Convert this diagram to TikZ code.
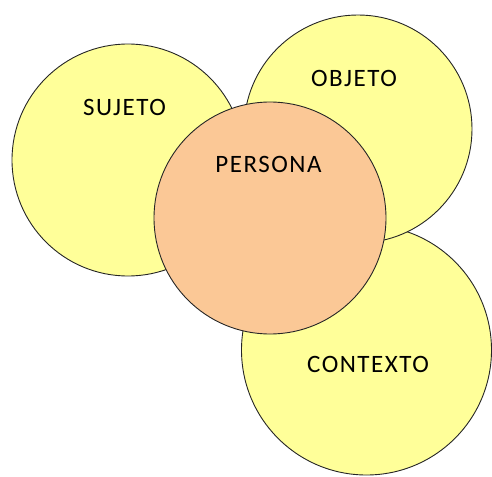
\documentclass[tikz,border=0pt]{standalone}
\usepackage{fontspec}
\setmainfont{Carlito}
\newfontfamily\lblfont[LetterSpace=6]{Carlito}
\definecolor{circyellow}{HTML}{FFFF99}
\definecolor{peach}{HTML}{FBC896}
\tikzset{
  circ/.style={circle, draw=black!85, line width=0.9pt, inner sep=0pt, minimum size=#1},
  lbl/.style={anchor=base, font=\lblfont\fontsize{25}{28}\selectfont, text=black, inner sep=0pt}
}
\begin{document}
\begin{tikzpicture}[x=1pt,y=-1pt]
\useasboundingbox (0,0) rectangle (492,476);
\node[circ=232pt, fill=circyellow] (sujeto) at (128,160) {};
\node[circ=250pt, fill=circyellow] (contexto) at (366.5,350) {};
\node[circ=228pt, fill=circyellow] (objeto) at (358,129) {};
\node[circ=232pt, fill=peach] (persona) at (270,218) {};
\node[lbl] (tsujeto) at (124.5,115) {SUJETO};
\node[lbl] (tobjeto) at (354,87) {OBJETO};
\node[lbl] (tpersona) at (268.5,172) {PERSONA};
\node[lbl] (tcontexto) at (368,372) {CONTEXTO};
\end{tikzpicture}
\end{document}
